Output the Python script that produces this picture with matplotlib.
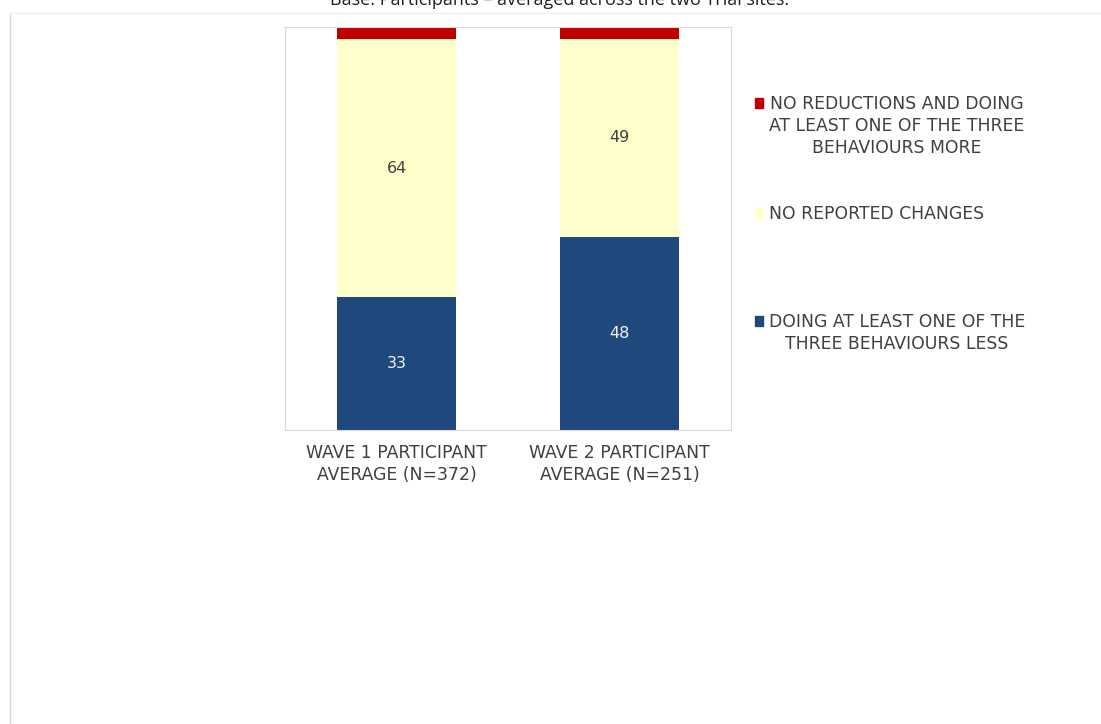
import matplotlib.pyplot as plt
from matplotlib.patches import Rectangle
from matplotlib.lines import Line2D

plt.rcParams['font.family'] = ['DejaVu Sans']

# data
waves = ['WAVE 1 PARTICIPANT\nAVERAGE (N=372)', 'WAVE 2 PARTICIPANT\nAVERAGE (N=251)']
less = [33, 48]
no_change = [64, 49]
more = [3, 3]

legend_labels = ['NO REDUCTIONS AND DOING\nAT LEAST ONE OF THE THREE\nBEHAVIOURS MORE',
                 'NO REPORTED CHANGES',
                 'DOING AT LEAST ONE OF THE\nTHREE BEHAVIOURS LESS']

blue = '#1F497D'
yellow = '#FFFFCC'
red = '#C00000'
txt = '#404040'

fig = plt.figure(figsize=(11.01, 7.24), dpi=100)
W, H = 1101, 724
ax = fig.add_axes([285 / W, 1 - 430 / H, (731 - 285) / W, (430 - 27) / H])

x = [0, 1]
ax.bar(x, less, width=0.535, color=blue)
ax.bar(x, no_change, width=0.535, bottom=less, color=yellow)
bot3 = [a + b for a, b in zip(less, no_change)]
ax.bar(x, more, width=0.535, bottom=bot3, color=red)

for i in x:
    ax.text(i, less[i] / 2, str(less[i]), ha='center', va='center',
            color='#F2F2F2', fontsize=11.5)
    ax.text(i, less[i] + no_change[i] / 2, str(no_change[i]), ha='center',
            va='center', color=txt, fontsize=11.5)

ax.set_xlim(-0.5, 1.5)
ax.set_ylim(0, 100)
ax.set_yticks([])
ax.set_xticks(x)
ax.set_xticklabels(waves, fontsize=12.4, color=txt, linespacing=1.3)
ax.tick_params(axis='x', length=0, pad=10)
for s in ax.spines.values():
    s.set_color('#D9D9D9')
    s.set_linewidth(0.8)

# title, cut off at the top like the source
fig.text(560 / W, 1 - 5 / H, 'Base: Participants \u2013 averaged across the two Trial sites.',
         ha='center', va='baseline', fontsize=13, color='#222222',
         family='Open Sans')

# faint outer frame
fig.add_artist(Line2D([10 / W, 10 / W], [0, 1 - 13 / H], color='#D9D9D9', lw=1))
fig.add_artist(Line2D([10 / W, 1], [1 - 13 / H, 1 - 13 / H], color='#F2F2F2', lw=1))

# legend, drawn by hand
leg = [(legend_labels[0], red, 103), (legend_labels[1], yellow, 213),
       (legend_labels[2], blue, 321)]
for lab, col, yy in leg:
    fig.add_artist(Rectangle((755 / W, 1 - (yy + 4.5) / H), 8 / W, 9 / H,
                             color=col, transform=fig.transFigure))
    fig.text(769 / W, 1 - (yy - 8) / H, lab, ha='left', va='top',
             multialignment='center', fontsize=12.4, color=txt, linespacing=1.3)

fig.savefig('out.png', dpi=100)
